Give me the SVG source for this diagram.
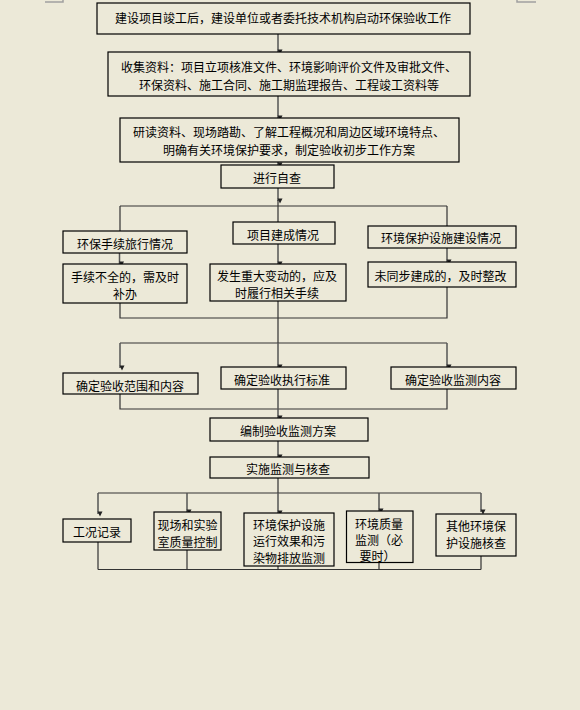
<svg xmlns="http://www.w3.org/2000/svg" width="580" height="710" viewBox="0 0 580 710">
<style>
.bg{fill:#ECE9D8}
.box rect{fill:#ECE9D8;stroke:#000;stroke-width:1.2}
.box text{font-family:"Noto Sans CJK SC","Noto Sans",sans-serif;font-size:12px;fill:#000;text-anchor:middle;dominant-baseline:central}
.conn path{fill:none;stroke:#333;stroke-width:1.2}
.conn path.arr{stroke:#555;stroke-width:1.5;marker-end:url(#ah)}
.mark{fill:none;stroke:#A0A0A0;stroke-width:1.5}
</style>
<defs>
<marker id="ah" markerUnits="userSpaceOnUse" markerWidth="6" markerHeight="6" refX="3" refY="5" orient="auto-start-reverse" viewBox="0 0 6 6">
<path d="M0.5,0.5 L5.5,0.5 L3,5.5 Z" fill="#222" transform="rotate(-90 3 3)"/>
</marker>
</defs>
<rect class="bg" x="0" y="0" width="580" height="710"/>
<path class="mark" d="M45,2 H63 V0 M517,0 V2 H536"/>
<g id="connectors" class="conn">
<path class="arr" d="M278,34 V52"/>
<path class="arr" d="M278,96 V118"/>
<path class="arr" d="M278,162 V165"/>
<path class="arr" d="M278,188 V201"/>
<path d="M278,200 V206 M120,206 H447 M120,206 V231 M278,206 V222 M447,206 V226"/>
<path class="arr" d="M119.5,253 V264"/>
<path class="arr" d="M278,244 V264"/>
<path class="arr" d="M447,248 V262"/>
<path d="M120,303 V318 H447 V287 M278,301 V343 M120,343 H447"/>
<path class="arr" d="M120,343 V368"/>
<path class="arr" d="M278,343 V367"/>
<path class="arr" d="M447,343 V367"/>
<path d="M120,394 V409 H447 V389"/>
<path class="arr" d="M278,389 V418"/>
<path class="arr" d="M278,441 V457"/>
<path d="M278,478 V493 M98,493 H481"/>
<path class="arr" d="M98,493 V514"/>
<path class="arr" d="M187,493 V512"/>
<path class="arr" d="M278,493 V513"/>
<path class="arr" d="M379,493 V511"/>
<path class="arr" d="M481,493 V512"/>
<path d="M98,542 V569.5 M187,550 V569.5 M278,566 V569.5 M379,562.5 V569.5 M481,556 V569.5 M98,569.5 H481"/>
</g>
<g id="n1" class="box"><rect x="97" y="3" width="373" height="31"/><text x="283" y="17">建设项目竣工后，建设单位或者委托技术机构启动环保验收工作</text></g>
<g id="n2" class="box"><rect x="108" y="52" width="362" height="44"/><text x="289" y="66">收集资料：项目立项核准文件、环境影响评价文件及审批文件、</text><text x="289" y="84.5">环保资料、施工合同、施工期监理报告、工程竣工资料等</text></g>
<g id="n3" class="box"><rect x="120" y="118" width="339" height="44"/><text x="289" y="131.5">研读资料、现场踏勘、了解工程概况和周边区域环境特点、</text><text x="289" y="149">明确有关环境保护要求，制定验收初步工作方案</text></g>
<g id="n4" class="box"><rect x="221" y="165" width="113" height="23"/><text x="277" y="177">进行自查</text></g>
<g id="a1" class="box"><rect x="63" y="231" width="124" height="22"/><text x="125" y="243.5">环保手续旅行情况</text></g>
<g id="b1" class="box"><rect x="233" y="222" width="102" height="22"/><text x="283" y="234.5">项目建成情况</text></g>
<g id="c1" class="box"><rect x="368" y="226" width="148" height="22"/><text x="441" y="237">环境保护设施建设情况</text></g>
<g id="a2" class="box"><rect x="63" y="264" width="124" height="39"/><text x="125" y="276">手续不全的，需及时</text><text x="125" y="293">补办</text></g>
<g id="b2" class="box"><rect x="210" y="264" width="136" height="37"/><text x="277" y="275.5">发生重大变动的，应及</text><text x="277" y="292.5">时履行相关手续</text></g>
<g id="c2" class="box"><rect x="368" y="262" width="148" height="25"/><text x="440.5" y="275">未同步建成的，及时整改</text></g>
<g id="d1" class="box"><rect x="63" y="373" width="135" height="21"/><text x="130" y="385.5">确定验收范围和内容</text></g>
<g id="d2" class="box"><rect x="221" y="367" width="125" height="22"/><text x="282" y="379">确定验收执行标准</text></g>
<g id="d3" class="box"><rect x="391" y="367" width="125" height="22"/><text x="453" y="379">确定验收监测内容</text></g>
<g id="e" class="box"><rect x="210" y="418" width="158" height="23"/><text x="288" y="430.5">编制验收监测方案</text></g>
<g id="f" class="box"><rect x="210" y="457" width="159" height="21"/><text x="288" y="468.5">实施监测与核查</text></g>
<g id="g1" class="box"><rect x="63" y="519" width="68" height="23"/><text x="97" y="531">工况记录</text></g>
<g id="g2" class="box"><rect x="154" y="512" width="67" height="38"/><text x="187.5" y="524">现场和实验</text><text x="187.5" y="541">室质量控制</text></g>
<g id="g3" class="box"><rect x="244" y="513" width="90" height="53"/><text x="289" y="524">环境保护设施</text><text x="289" y="540.5">运行效果和污</text><text x="289" y="557">染物排放监测</text></g>
<g id="g4" class="box"><rect x="346.5" y="511" width="66.5" height="51.5"/><text x="379" y="523">环境质量</text><text x="379" y="539.5">监测（必</text><text x="377.5" y="555.5">要时）</text></g>
<g id="g5" class="box"><rect x="436" y="514" width="80" height="42"/><text x="476" y="525.5">其他环境保</text><text x="476" y="542.5">护设施核查</text></g>
</svg>
